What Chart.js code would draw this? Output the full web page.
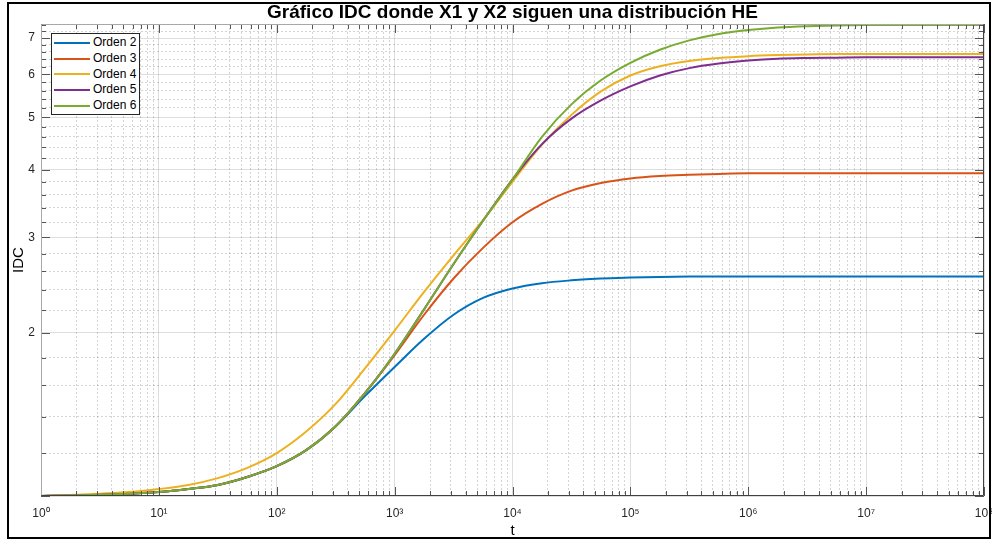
<!DOCTYPE html>
<html>
<head>
<meta charset="utf-8">
<script src="https://cdn.jsdelivr.net/npm/chart.js@4.4.1/dist/chart.umd.min.js"></script>
<style>
  body { margin: 0; background: #fff; }
  #wrap { position: relative; width: 992px; height: 540px; }
  #frame { position: absolute; left: 7px; top: 2px; width: 984px; height: 537px; box-sizing: border-box; border: 2px solid #000; pointer-events: none; }
  #legend { position: absolute; left: 51px; top: 33px; width: 89px; height: 82px; box-sizing: border-box; border: 1px solid #262626; background: #fff; padding-top: 1px; font: 12px "Liberation Sans", Arial, sans-serif; color: #000; }
  #legend div { height: 15.8px; line-height: 15.8px; white-space: nowrap; }
  #legend span { display: inline-block; width: 36px; height: 2px; margin: 0 3px 0 2px; vertical-align: middle; }
</style>
</head>
<body>
<div id="wrap">
  <canvas id="myChart" width="992" height="540"></canvas>
  <div id="legend"></div>
  <div id="frame"></div>
</div>
<script>
// t sampled every quarter decade, 10^0 .. 10^8
const t = [1, 1.778, 3.162, 5.623, 10, 17.78, 31.62, 56.23, 100, 177.8, 316.2, 562.3,
  1e3, 1778, 3162, 5623, 1e4, 17783, 31623, 56234, 1e5, 177828, 316228, 562341,
  1e6, 1778279, 3162278, 5623413, 1e7, 17782794, 31622777, 56234133, 1e8];

const orden2 = [1.000, 1.002, 1.005, 1.010, 1.017, 1.030, 1.048, 1.084, 1.135, 1.215, 1.345,
  1.53, 1.73, 1.95, 2.16, 2.32, 2.415, 2.47, 2.50, 2.52, 2.53,
  2.537, 2.54, 2.54, 2.54, 2.54, 2.54, 2.54, 2.54, 2.54, 2.54, 2.54, 2.54];
const orden3 = [1.000, 1.002, 1.005, 1.010, 1.017, 1.030, 1.048, 1.084, 1.135, 1.215, 1.345, 1.55,
  1.82, 2.16, 2.52, 2.87, 3.20, 3.46, 3.66, 3.78, 3.855, 3.895, 3.915, 3.93,
  3.94, 3.94, 3.94, 3.94, 3.94, 3.94, 3.94, 3.94, 3.94];
const orden4 = [1.000, 1.004, 1.010, 1.017, 1.030, 1.048, 1.079, 1.127, 1.200, 1.315, 1.479, 1.722,
  2.02, 2.38, 2.78, 3.23, 3.80, 4.45, 5.05, 5.58, 5.97, 6.21, 6.35, 6.43, 6.48, 6.51,
  6.53, 6.54, 6.54, 6.54, 6.54, 6.54, 6.54];
const orden5 = [1.000, 1.002, 1.005, 1.010, 1.017, 1.030, 1.048, 1.084, 1.135, 1.215, 1.345, 1.55,
  1.83, 2.21, 2.68, 3.22, 3.84, 4.46, 4.97, 5.37, 5.70, 5.97, 6.16, 6.28, 6.36, 6.41, 6.43,
  6.44, 6.45, 6.45, 6.45, 6.45, 6.45];
const orden6 = [1.000, 1.002, 1.005, 1.010, 1.017, 1.030, 1.048, 1.084, 1.135, 1.215, 1.345, 1.55,
  1.83, 2.21, 2.68, 3.22, 3.84, 4.60, 5.28, 5.85, 6.30, 6.66, 6.93, 7.12, 7.24, 7.32, 7.36, 7.38,
  7.40, 7.40, 7.40, 7.40, 7.40];

const seriesLabels = ['Orden 2', 'Orden 3', 'Orden 4', 'Orden 5', 'Orden 6'];
const seriesValues = [orden2, orden3, orden4, orden5, orden6];
const colors = ['#0072BD', '#D95319', '#EDB120', '#7E2F8E', '#77AC30'];

const xLabels = ['10⁰', '10¹', '10²', '10³', '10⁴', '10⁵', '10⁶', '10⁷', '10⁸'];
const yLabels = [2, 3, 4, 5, 6, 7];

const isDecade = v => Math.abs(Math.log10(v) - Math.round(Math.log10(v))) < 1e-9;
const isWhole = v => Math.abs(v - Math.round(v)) < 1e-9;

const majorGrid = 'rgba(0,0,0,0.13)';
const minorGrid = 'rgba(0,0,0,0.17)';

Chart.defaults.font.family = '"Liberation Sans", Arial, sans-serif';
Chart.defaults.color = '#262626';

// inward tick marks and the axes box, like a boxed log-log plot
const axesBox = {
  id: 'axesBox',
  afterDatasetsDraw(chart) {
    const {ctx, chartArea: a, scales: {x, y}} = chart;
    ctx.save();
    ctx.lineWidth = 1;
    ctx.strokeStyle = '#555';
    ctx.beginPath();
    x.ticks.forEach(tk => {
      const px = Math.round(x.getPixelForValue(tk.value)) + 0.5;
      const len = isDecade(tk.value) ? 9 : 5;
      ctx.moveTo(px, a.bottom); ctx.lineTo(px, a.bottom - len);
      ctx.moveTo(px, a.top); ctx.lineTo(px, a.top + len);
    });
    y.ticks.forEach(tk => {
      const py = Math.round(y.getPixelForValue(tk.value)) + 0.5;
      const len = isWhole(tk.value) ? 9 : 5;
      ctx.moveTo(a.left, py); ctx.lineTo(a.left + len, py);
      ctx.moveTo(a.right, py); ctx.lineTo(a.right - len, py);
    });
    ctx.stroke();

    const l = Math.round(a.left) + 0.5, r = Math.round(a.right) - 0.5;
    const tp = Math.round(a.top) + 0.5, b = Math.round(a.bottom) - 0.5;
    ctx.strokeStyle = '#a8a8a8';
    ctx.beginPath();
    ctx.moveTo(l, b); ctx.lineTo(l, tp); ctx.lineTo(r, tp);
    ctx.stroke();
    ctx.strokeStyle = '#404040';
    ctx.beginPath();
    ctx.moveTo(l, b); ctx.lineTo(r, b); ctx.lineTo(r, tp);
    ctx.stroke();
    ctx.restore();
  }
};

function xTicks(scale) {
  const out = [];
  for (let e = 0; e < 8; e++) {
    for (let m = 1; m < 10; m++) out.push({value: m * Math.pow(10, e)});
  }
  out.push({value: 1e8});
  scale.ticks = out;
}

function yTicks(scale) {
  const out = [];
  for (let i = 0; i <= 32; i++) out.push({value: Math.round((1 + i * 0.2) * 10) / 10});
  scale.ticks = out;
}

const datasets = seriesLabels.map((label, i) => ({
  label: label,
  data: t.map((tv, k) => ({x: tv, y: seriesValues[i][k]})),
  borderColor: colors[i],
  backgroundColor: colors[i],
  borderWidth: 2,
  pointRadius: 0,
  cubicInterpolationMode: 'monotone',
  order: seriesLabels.length - 1 - i
}));

let canvas = document.getElementById('myChart');
let chart = new Chart(canvas, {
  type: 'line',
  data: {datasets: datasets},
  plugins: [axesBox],
  options: {
    responsive: false,
    animation: false,
    layout: {padding: {left: 0, right: 8, top: 0, bottom: 0}},
    plugins: {
      legend: {display: false},
      tooltip: {enabled: false},
      title: {
        display: true,
        text: 'Gráfico IDC donde X1 y X2 siguen una distribución HE',
        color: '#000',
        fullSize: false,
        font: {size: 19, weight: 'bold'},
        padding: {top: 1, bottom: 0.2}
      }
    },
    scales: {
      x: {
        type: 'logarithmic',
        min: 1,
        max: 1e8,
        afterBuildTicks: xTicks,
        afterFit(scale) { scale.height = 44; scale.paddingLeft = 0; scale.paddingRight = 0; },
        ticks: {
          autoSkip: false,
          maxRotation: 0,
          minRotation: 0,
          padding: 10,
          font: {size: 12},
          callback: v => isDecade(v) ? xLabels[Math.round(Math.log10(v))] : ''
        },
        grid: {
          drawTicks: false,
          color: c => (c.tick && isDecade(c.tick.value)) ? majorGrid : minorGrid
        },
        border: {
          display: false,
          dash: c => (c.tick && !isDecade(c.tick.value)) ? [2, 2] : []
        },
        title: {display: true, text: 't', color: '#000', font: {size: 15}, padding: {top: 0, bottom: 0}}
      },
      y: {
        type: 'logarithmic',
        min: 1,
        max: 7.43,
        afterBuildTicks: yTicks,
        afterFit(scale) { scale.width = 41; scale.paddingTop = 0; scale.paddingBottom = 0; },
        ticks: {
          autoSkip: false,
          padding: 6,
          font: {size: 12},
          callback: v => yLabels.includes(v) ? String(v) : ''
        },
        grid: {
          drawTicks: false,
          color: c => (c.tick && isWhole(c.tick.value)) ? majorGrid : minorGrid
        },
        border: {
          display: false,
          dash: c => (c.tick && !isWhole(c.tick.value)) ? [2, 2] : []
        },
        title: {display: true, text: 'IDC', color: '#000', font: {size: 15}, padding: {top: 10, bottom: 0}}
      }
    }
  }
});

// legend box in the upper left corner of the plot
const legend = document.getElementById('legend');
datasets.forEach(ds => {
  const row = document.createElement('div');
  const line = document.createElement('span');
  line.style.background = ds.borderColor;
  row.appendChild(line);
  row.appendChild(document.createTextNode(ds.label));
  legend.appendChild(row);
});
</script>
</body>
</html>
